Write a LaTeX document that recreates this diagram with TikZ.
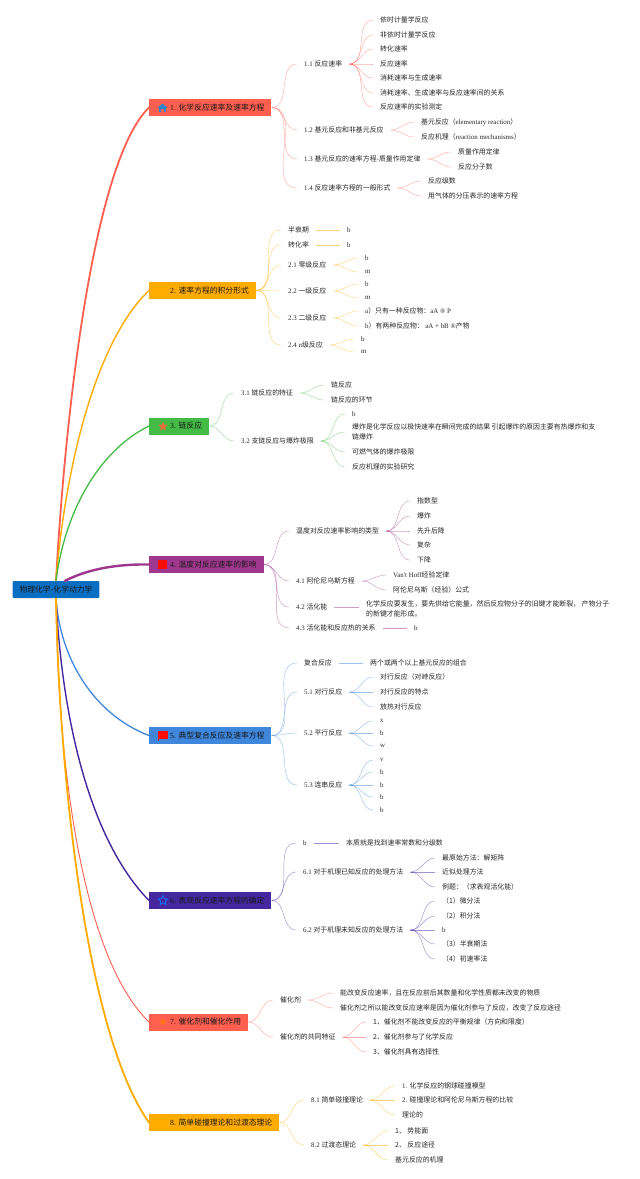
\documentclass[tikz,border=0pt]{standalone}
\usepackage{fontspec}
\setmainfont{Noto Sans CJK SC}
\newfontfamily\lat{Liberation Serif}
\usetikzlibrary{shapes.geometric}
\definecolor{cred}{HTML}{FF5F4F}
\definecolor{cyel}{HTML}{FFAB00}
\definecolor{cgrn}{HTML}{44BB44}
\definecolor{cpur}{HTML}{A0378F}
\definecolor{cblu}{HTML}{3F86DD}
\definecolor{cvio}{HTML}{4527A0}
\definecolor{croot}{HTML}{0A6FC2}
\definecolor{chome}{HTML}{2E86C8}
\definecolor{cstar}{HTML}{E2703A}
\tikzset{
  rootbox/.style={fill=croot,rounded corners=1pt,minimum height=17pt,inner ysep=0pt,inner xsep=7pt,
    text=black!90,font=\fontsize{7.8}{10}\selectfont},
  branch/.style={anchor=west,minimum height=17pt,inner ysep=0pt,inner xsep=7pt,
    text=black!90,font=\fontsize{7.8}{10}\selectfont},
  leaf/.style={anchor=west,inner ysep=1pt,inner xsep=7pt,text=black!85,align=left,
    font=\fontsize{6.9}{10}\selectfont},
  trunk/.style={line cap=round},
  twig/.style={line width=.45pt,opacity=.5},
}
\begin{document}
\begin{tikzpicture}[x=1pt,y=-1pt]
\useasboundingbox (0,0) rectangle (640,1179);

% root and main branches
\node[rootbox] (root) at (56,589.5) {物理化学-化学动力学};
\node[branch,fill=cred] (n1) at (149,107.5) {\hspace*{14pt}{\lat 1. }化学反应速率及速率方程};
\node[branch,fill=cyel] (n2) at (149,290.5) {\hspace*{14pt}{\lat 2. }速率方程的积分形式};
\node[branch,fill=cgrn] (n3) at (149,426) {\hspace*{14pt}{\lat 3. }链反应};
\node[branch,fill=cpur] (n4) at (149,564.5) {\hspace*{14pt}{\lat 4. }温度对反应速率的影响};
\node[branch,fill=cblu] (n5) at (149,735.5) {\hspace*{14pt}{\lat 5. }典型复合反应及速率方程};
\node[branch,fill=cvio] (n6) at (149,900.5) {\hspace*{14pt}{\lat 6. }表观反应速率方程的确定};
\node[branch,fill=cred] (n7) at (149,1022) {\hspace*{14pt}{\lat 7. }催化剂和催化作用};
\node[branch,fill=cyel] (n8) at (149,1122.5) {\hspace*{14pt}{\lat 8. }简单碰撞理论和过渡态理论};

% thick curves out of the root
\draw[trunk,cred,line width=1.8pt] (root.north) .. controls (66,400) and (95,160) .. (n1.west);
\draw[trunk,cyel,line width=1.4pt] (root.north) .. controls (64,480) and (92,345) .. (n2.west);
\draw[trunk,cgrn,line width=1.3pt] (root.north) .. controls (65,510) and (100,450) .. (n3.west);
\draw[trunk,cpur,line width=2.4pt] ([xshift=9pt]root.north) .. controls (90,568) and (120,564) .. (n4.west);
\draw[trunk,cblu,line width=1.3pt] (root.south) .. controls (60,660) and (95,715) .. (n5.west);
\draw[trunk,cvio,line width=1.4pt] (root.south) .. controls (62,720) and (90,840) .. (n6.west);
\draw[trunk,cred,line width=.9pt] (root.south) .. controls (58,780) and (85,960) .. (n7.west);
\draw[trunk,cyel,line width=1.8pt] (root.south) .. controls (60,800) and (90,1040) .. (n8.west);

% icons
\fill[chome] (157.5,108) -- (162.5,103.5) -- (167.5,108) -- (166,108) -- (166,112) -- (164,112)
  -- (164,109) -- (161,109) -- (161,112) -- (159,112) -- (159,108) -- cycle;
\node[star,star point ratio=2.2,fill=cstar,minimum size=10pt,inner sep=0pt] (ic3) at (163,426.5) {};
\fill[red!90!orange] (158,560) rectangle (166.5,568.5);
\fill[red!90!orange] (158,730.5) rectangle (167.5,738.5);
\fill[red!60!black] (158,738.5) rectangle (158.8,741);
\node[star,star point ratio=2.2,draw=blue!55!cyan,fill=cvio,line width=.8pt,minimum size=10pt,inner sep=0pt] (ic6) at (163,900.5) {};
\node[star,star point ratio=2.2,fill=orange!70!cred,minimum size=8pt,inner sep=0pt] (ic7) at (163,1022) {};

% 1
\node[leaf] (n11) at (297,64) {{\lat 1.1 }反应速率};
\node[leaf] (n11a) at (373,20) {依时计量学反应};
\node[leaf] (n11b) at (373,35) {非依时计量学反应};
\node[leaf] (n11c) at (373,49) {转化速率};
\node[leaf] (n11d) at (373,64) {反应速率};
\node[leaf] (n11e) at (373,78) {消耗速率与生成速率};
\node[leaf] (n11f) at (373,93) {消耗速率、生成速率与反应速率间的关系};
\node[leaf] (n11g) at (373,107) {反应速率的实验测定};
\node[leaf] (n12) at (297,130) {{\lat 1.2 }基元反应和非基元反应};
\node[leaf] (n12a) at (414,122) {基元反应（{\lat elementary reaction}）};
\node[leaf] (n12b) at (414,137) {反应机理（{\lat reaction mechanisms}）};
\node[leaf] (n13) at (297,159) {{\lat 1.3 }基元反应的速率方程-质量作用定律};
\node[leaf] (n13a) at (451,152) {质量作用定律};
\node[leaf] (n13b) at (451,167) {反应分子数};
\node[leaf] (n14) at (297,188) {{\lat 1.4 }反应速率方程的一般形式};
\node[leaf] (n14a) at (421,181) {反应级数};
\node[leaf] (n14b) at (421,196) {用气体的分压表示的速率方程};
\foreach \c in {n11,n12,n13,n14} \draw[twig,cred] (n1.east) to[out=0,in=180] (\c.west);
\foreach \c in {a,b,c,d,e,f,g} \draw[twig,cred] (n11.east) to[out=0,in=180] (n11\c.west);
\foreach \c in {a,b} {
  \draw[twig,cred] (n12.east) to[out=0,in=180] (n12\c.west);
  \draw[twig,cred] (n13.east) to[out=0,in=180] (n13\c.west);
  \draw[twig,cred] (n14.east) to[out=0,in=180] (n14\c.west);
}

% 2
\node[leaf] (n21) at (281,230) {半衰期};
\node[leaf] (n21a) at (340,230) {\lat b};
\node[leaf] (n22) at (281,245) {转化率};
\node[leaf] (n22a) at (340,245) {\lat b};
\node[leaf] (n23) at (281,265) {{\lat 2.1 }零级反应};
\node[leaf] (n23a) at (358,258) {\lat b};
\node[leaf] (n23b) at (358,272) {\lat m};
\node[leaf] (n24) at (281,291) {{\lat 2.2 }一级反应};
\node[leaf] (n24a) at (358,284) {\lat b};
\node[leaf] (n24b) at (358,298) {\lat m};
\node[leaf] (n25) at (281,318) {{\lat 2.3 }二级反应};
\node[leaf] (n25a) at (358,311) {{\lat a}）只有一种反应物：{\lat aA ® P}};
\node[leaf] (n25b) at (358,326) {{\lat b}）有两种反应物： {\lat aA + bB ®}产物};
\node[leaf] (n26) at (281,345) {{\lat 2.4 n}级反应};
\node[leaf] (n26a) at (354,339) {\lat b};
\node[leaf] (n26b) at (354,352) {\lat m};
\foreach \c in {n21,n22,n23,n24,n25,n26} \draw[twig,cyel] (n2.east) to[out=0,in=180] (\c.west);
\draw[twig,cyel] (n21) -- (n21a);
\draw[twig,cyel] (n22) -- (n22a);
\foreach \p in {n23,n24,n25,n26} \foreach \c in {a,b} \draw[twig,cyel] (\p.east) to[out=0,in=180] (\p\c.west);

% 3
\node[leaf] (n31) at (234,393) {{\lat 3.1 }链反应的特征};
\node[leaf] (n31a) at (324,385) {链反应};
\node[leaf] (n31b) at (324,400) {链反应的环节};
\node[leaf] (n32) at (234,441) {{\lat 3.2 }支链反应与爆炸极限};
\node[leaf] (n32a) at (345,414) {\lat b};
\node[leaf] (n32b) at (345,432) {爆炸是化学反应以极快速率在瞬间完成的结果 引起爆炸的原因主要有热爆炸和支\\链爆炸};
\node[leaf] (n32c) at (345,452) {可燃气体的爆炸极限};
\node[leaf] (n32d) at (345,467) {反应机理的实验研究};
\foreach \c in {n31,n32} \draw[twig,cgrn] (n3.east) to[out=0,in=180] (\c.west);
\foreach \c in {a,b} \draw[twig,cgrn] (n31.east) to[out=0,in=180] (n31\c.west);
\foreach \c in {a,b,c,d} \draw[twig,cgrn] (n32.east) to[out=0,in=180] (n32\c.west);

% 4
\node[leaf] (n41) at (289,531) {温度对反应速率影响的类型};
\node[leaf] (n41a) at (410,501) {指数型};
\node[leaf] (n41b) at (410,516) {爆炸};
\node[leaf] (n41c) at (410,531) {先升后降};
\node[leaf] (n41d) at (410,545) {复杂};
\node[leaf] (n41e) at (410,560) {下降};
\node[leaf] (n42) at (289,581) {{\lat 4.1 }阿伦尼乌斯方程};
\node[leaf] (n42a) at (386,575) {{\lat Van't Hoff}经验定律};
\node[leaf] (n42b) at (386,590) {阿伦尼乌斯（经验）公式};
\node[leaf] (n43) at (289,607) {{\lat 4.2 }活化能};
\node[leaf] (n43a) at (359,609) {化学反应要发生，要先供给它能量，然后反应物分子的旧键才能断裂， 产物分子\\的新键才能形成。};
\node[leaf] (n44) at (289,628) {{\lat 4.3 }活化能和反应热的关系};
\node[leaf] (n44a) at (407,628) {\lat b};
\foreach \c in {n41,n42,n43,n44} \draw[twig,cpur] (n4.east) to[out=0,in=180] (\c.west);
\foreach \c in {a,b,c,d,e} \draw[twig,cpur] (n41.east) to[out=0,in=180] (n41\c.west);
\foreach \c in {a,b} \draw[twig,cpur] (n42.east) to[out=0,in=180] (n42\c.west);
\draw[twig,cpur] (n43.east) -- (n43a.west |- n43.east);
\draw[twig,cpur] (n44) -- (n44a);

% 5
\node[leaf] (n51) at (297,663) {复合反应};
\node[leaf] (n51a) at (363,663) {两个或两个以上基元反应的组合};
\node[leaf] (n52) at (297,692) {{\lat 5.1 }对行反应};
\node[leaf] (n52a) at (373,677) {对行反应（对峙反应）};
\node[leaf] (n52b) at (373,692) {对行反应的特点};
\node[leaf] (n52c) at (373,707) {放热对行反应};
\node[leaf] (n53) at (297,733) {{\lat 5.2 }平行反应};
\node[leaf] (n53a) at (373,721) {\lat x};
\node[leaf] (n53b) at (373,733) {\lat b};
\node[leaf] (n53c) at (373,746) {\lat w};
\node[leaf] (n54) at (297,785) {{\lat 5.3 }连串反应};
\node[leaf] (n54a) at (373,760) {\lat v};
\node[leaf] (n54b) at (373,772) {\lat b};
\node[leaf] (n54c) at (373,785) {\lat b};
\node[leaf] (n54d) at (373,797) {\lat b};
\node[leaf] (n54e) at (373,810) {\lat b};
\foreach \c in {n51,n52,n53,n54} \draw[twig,cblu] (n5.east) to[out=0,in=180] (\c.west);
\draw[twig,cblu] (n51) -- (n51a);
\foreach \p in {n52,n53} \foreach \c in {a,b,c} \draw[twig,cblu] (\p.east) to[out=0,in=180] (\p\c.west);
\foreach \c in {a,b,c,d,e} \draw[twig,cblu] (n54.east) to[out=0,in=180] (n54\c.west);

% 6
\node[leaf] (n61) at (296,843) {\lat b};
\node[leaf] (n61a) at (339,843) {本质就是找到速率常数和分级数};
\node[leaf] (n62) at (296,872) {{\lat 6.1 }对于机理已知反应的处理方法};
\node[leaf] (n62a) at (435,858) {最原始方法：解矩阵};
\node[leaf] (n62b) at (435,872) {近似处理方法};
\node[leaf] (n62c) at (435,887) {例题：（求表观活化能）};
\node[leaf] (n63) at (296,930) {{\lat 6.2 }对于机理未知反应的处理方法};
\node[leaf] (n63a) at (435,901) {（1）微分法};
\node[leaf] (n63b) at (435,916) {（2）积分法};
\node[leaf] (n63c) at (435,930) {\lat b};
\node[leaf] (n63d) at (435,944) {（3）半衰期法};
\node[leaf] (n63e) at (435,959) {（4）初速率法};
\foreach \c in {n61,n62,n63} \draw[twig,cvio] (n6.east) to[out=0,in=180] (\c.west);
\draw[twig,cvio] (n61) -- (n61a);
\foreach \c in {a,b,c} \draw[twig,cvio] (n62.east) to[out=0,in=180] (n62\c.west);
\foreach \c in {a,b,c,d,e} \draw[twig,cvio] (n63.east) to[out=0,in=180] (n63\c.west);

% 7
\node[leaf] (n71) at (273,1000) {催化剂};
\node[leaf] (n71a) at (333,993) {能改变反应速率，且在反应前后其数量和化学性质都未改变的物质};
\node[leaf] (n71b) at (333,1008) {催化剂之所以能改变反应速率是因为催化剂参与了反应，改变了反应途径};
\node[leaf] (n72) at (273,1037) {催化剂的共同特征};
\node[leaf] (n72a) at (366,1022) {1、催化剂不能改变反应的平衡规律（方向和限度）};
\node[leaf] (n72b) at (366,1037) {2、催化剂参与了化学反应};
\node[leaf] (n72c) at (366,1052) {3、催化剂具有选择性};
\foreach \c in {n71,n72} \draw[twig,cred] (n7.east) to[out=0,in=180] (\c.west);
\foreach \c in {a,b} \draw[twig,cred] (n71.east) to[out=0,in=180] (n71\c.west);
\foreach \c in {a,b,c} \draw[twig,cred] (n72.east) to[out=0,in=180] (n72\c.west);

% 8
\node[leaf] (n81) at (304,1100) {{\lat 8.1 }简单碰撞理论};
\node[leaf] (n81a) at (395,1086) {{\lat 1. }化学反应的钢球碰撞模型};
\node[leaf] (n81b) at (395,1100) {{\lat 2. }碰撞理论和阿伦尼乌斯方程的比较};
\node[leaf] (n81c) at (395,1115) {理论的};
\node[leaf] (n82) at (304,1145) {{\lat 8.2 }过渡态理论};
\node[leaf] (n82a) at (388,1131) {1、 势能面};
\node[leaf] (n82b) at (388,1145) {2、 反应途径};
\node[leaf] (n82c) at (388,1160) {基元反应的机理};
\foreach \c in {n81,n82} \draw[twig,cyel] (n8.east) to[out=0,in=180] (\c.west);
\foreach \c in {a,b,c} {
  \draw[twig,cyel] (n81.east) to[out=0,in=180] (n81\c.west);
  \draw[twig,cyel] (n82.east) to[out=0,in=180] (n82\c.west);
}
\end{tikzpicture}
\end{document}
